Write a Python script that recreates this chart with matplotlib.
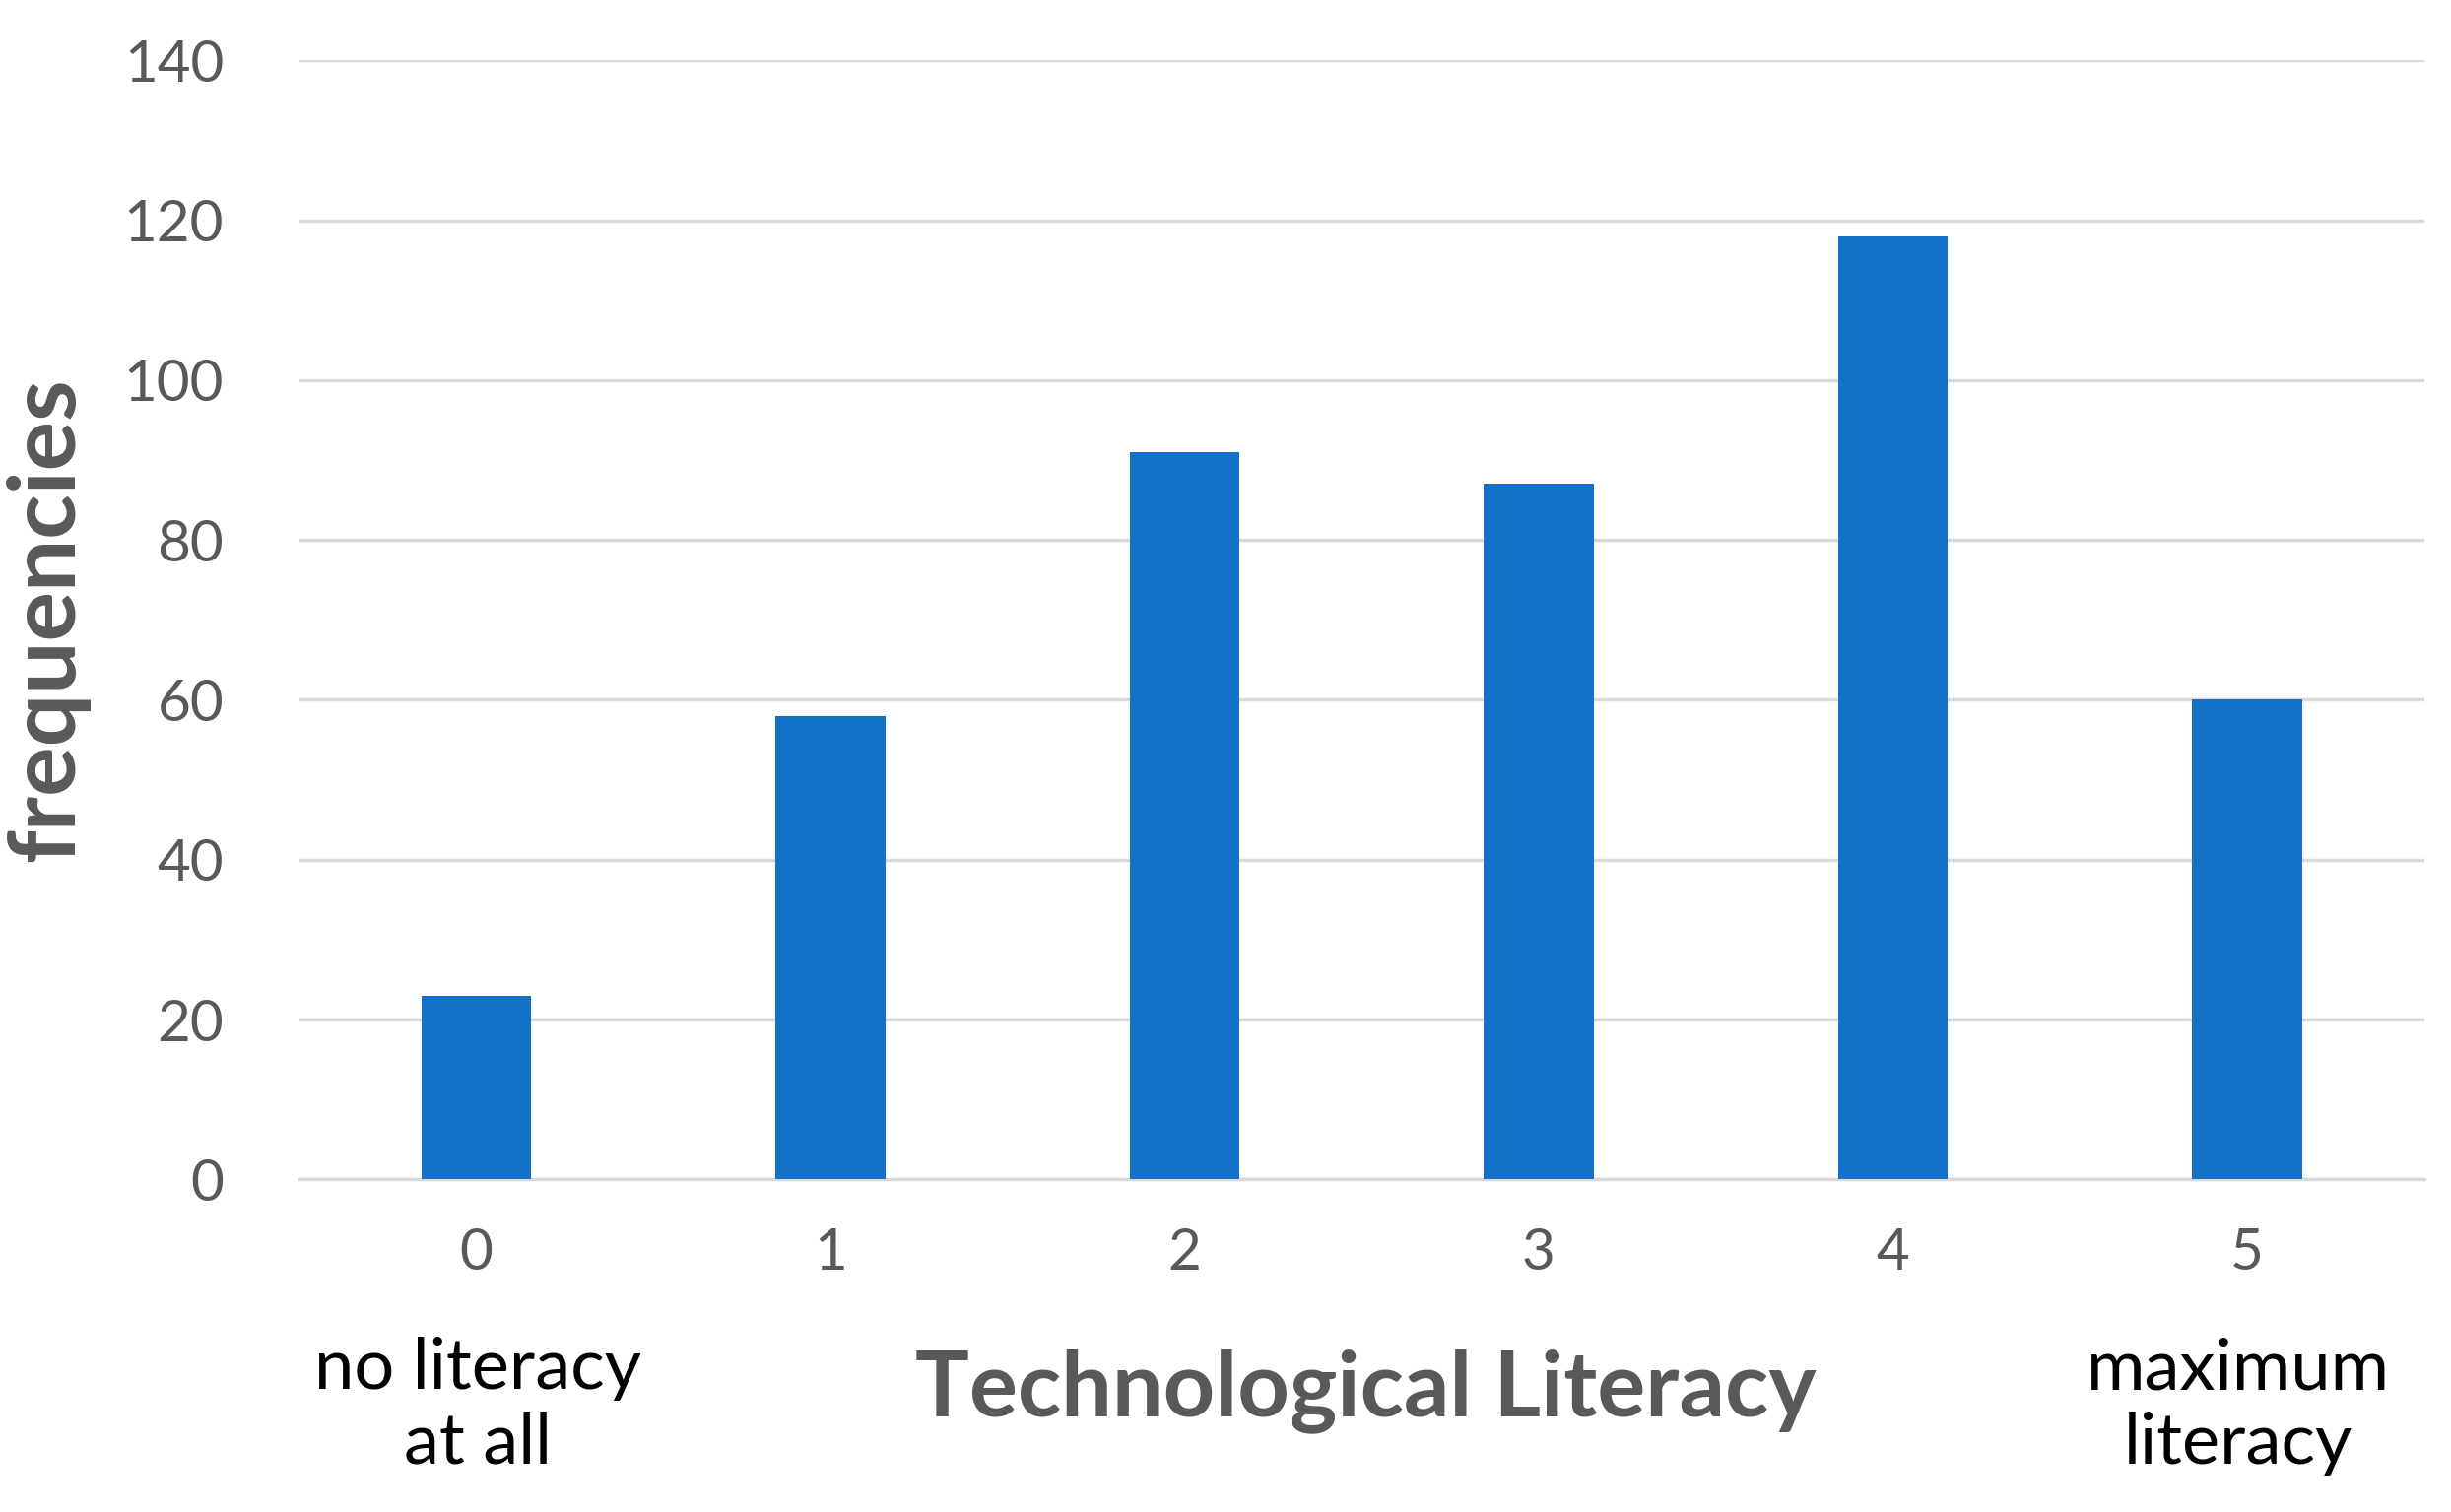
import matplotlib
matplotlib.use("Agg")
import matplotlib.pyplot as plt

levels = ["0", "1", "2", "3", "4", "5"]
freqs = [23, 58, 91, 87, 118, 60]
yticks = [0, 20, 40, 60, 80, 100, 120, 140]

plt.rcParams["font.family"] = ["Lato", "DejaVu Sans"]

fig = plt.figure(figsize=(24.88, 15.35), dpi=100)
ax = fig.add_axes([0.122, 0.22, 0.867, 0.74])

x = list(range(len(levels)))
ax.bar(x, freqs, width=0.31, color="#1471C8", zorder=3)
ax.set_xlim(-0.5, 5.5)
ax.set_ylim(0, 140)
ax.set_yticks(yticks)
ax.set_xticks(x)
ax.set_xticklabels(levels)
ax.grid(axis="y", color="#D9D9D9", linewidth=2.5, zorder=0)
for s in ["top", "right", "left"]:
    ax.spines[s].set_visible(False)
ax.spines["bottom"].set_color("#D9D9D9")
ax.spines["bottom"].set_linewidth(2.5)
ax.tick_params(axis="both", length=0, labelsize=42, labelcolor="#595959", pad=35)
ax.tick_params(axis="y", pad=55)

ax.set_ylabel("frequencies", fontsize=68, fontweight="bold", color="#595959", labelpad=25)
fig.text(0.557, 0.08, "Technological Literacy", fontsize=66, fontweight="bold",
         color="#595959", ha="center", va="center")
fig.text(0.195, 0.07, "no literacy\nat all", fontsize=52, ha="center", va="center",
         linespacing=1.2)
fig.text(0.913, 0.07, "maximum\nliteracy", fontsize=52, ha="center", va="center",
         linespacing=1.2)

fig.savefig("out.png", dpi=100, facecolor="white")
